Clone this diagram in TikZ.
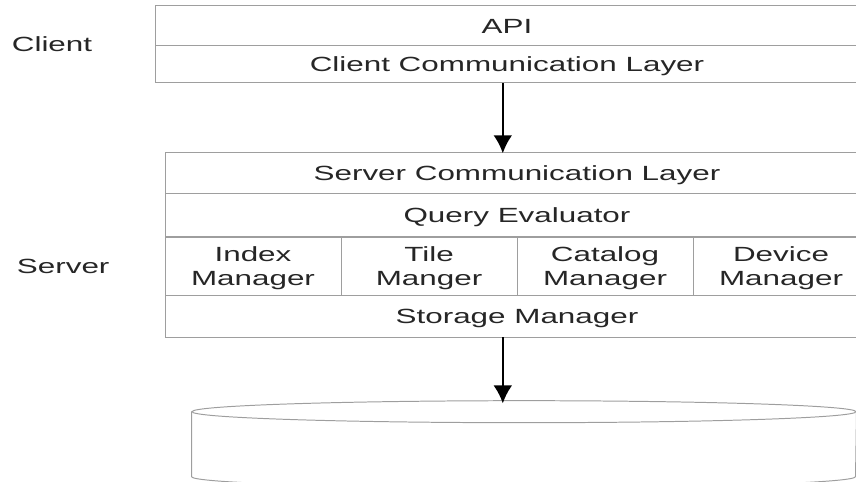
\documentclass[tikz,border=0pt]{standalone}
\usepackage{fontspec}
\setmainfont[FakeStretch=1.53]{Liberation Sans}
\usetikzlibrary{shapes.geometric,arrows.meta}
\definecolor{rule}{gray}{0.62}
\definecolor{ink}{gray}{0.15}
\tikzset{
  layer/.style={draw=rule,line width=.7pt,inner sep=0pt,align=center,text=ink,text depth=0pt,
    font=\fontsize{14.6}{16.6}\selectfont},
  label/.style={inner sep=0pt,text=ink,text depth=0pt,font=\fontsize{14.6}{16.6}\selectfont},
  disk/.style={draw=rule,line width=.7pt},
  flow/.style={-{Latex[length=.45cm,width=.47cm]},black,line width=1.5pt}
}
\begin{document}
\begin{tikzpicture}
    \useasboundingbox (0,0) rectangle (21.4,12.05);
    \clip (0,0) rectangle (21.4,12.05);
    %% Draw the side labels
    \node[label] (Client) at (1.3,10.95) {Client};
    \node[label] (Server) at (1.58,5.4) {Server};
    %% Draw the client layers
    \node[layer,minimum width=17.6cm,minimum height=1cm] (API) at (12.675,11.4) {API};
    \node[layer,minimum width=17.6cm,minimum height=.925cm] (CCL) at (12.675,10.4375) {Client Communication Layer};
    %% Draw the server layers
    \node[layer,minimum width=17.6cm,minimum height=1.025cm] (SCL) at (12.925,7.7125) {Server Communication Layer};
    \node[layer,minimum width=17.6cm,minimum height=1.075cm] (QE) at (12.925,6.6625) {Query Evaluator};
    \node[layer,minimum width=4.4cm,minimum height=1.45cm] (IM) at (6.325,5.4) {Index\\Manager};
    \node[layer,minimum width=4.4cm,minimum height=1.45cm] (TM) at (10.725,5.4) {Tile\\Manger};
    \node[layer,minimum width=4.4cm,minimum height=1.45cm] (CM) at (15.125,5.4) {Catalog\\Manager};
    \node[layer,minimum width=4.4cm,minimum height=1.45cm] (DM) at (19.525,5.4) {Device\\Manager};
    \node[layer,minimum width=17.6cm,minimum height=1.05cm] (SM) at (12.925,4.15) {Storage Manager};
    %% Draw the disk
    \node[disk,shape=ellipse,inner sep=0pt,minimum width=16.6cm,minimum height=.55cm] (Disk) at (13.1,1.7575) {};
    \draw[disk] (Disk.west) -- ++(0,-1.625) arc[start angle=180,end angle=360,x radius=8.3cm,y radius=.275cm] -- (Disk.east);
    %% Draw the edges
    \coordinate (axis) at (12.57,0);
    \begin{scope}[every path/.style={flow}]
      \draw[shorten >=-.02cm] (CCL.south -| axis) -- (SCL.north -| axis);
      \draw[shorten >=-.08cm] (SM.south -| axis) -- (Disk.north -| axis);
    \end{scope}
\end{tikzpicture}
\end{document}
